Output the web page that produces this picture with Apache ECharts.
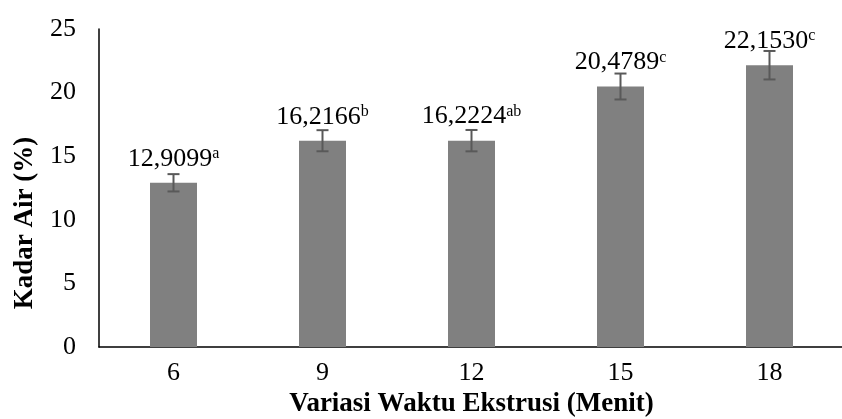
<!DOCTYPE html>
<html>
<head>
<meta charset="utf-8">
<script src="https://cdn.jsdelivr.net/npm/echarts@6/dist/echarts.min.js"></script>
<style>html,body{margin:0;padding:0;background:#fff}#c{width:842px;height:419px}</style>
</head>
<body>
<div id="c"></div>
<script>
var categories = ['6', '9', '12', '15', '18'];
var values = [12.9099, 16.2166, 16.2224, 20.4789, 22.1530];
var errors = [0.68, 0.83, 0.84, 1.02, 1.12];
var letters = ['a', 'b', 'ab', 'c', 'c'];
var yTicks = [0, 5, 10, 15, 20, 25];
var xTitle = 'Variasi Waktu Ekstrusi (Menit)';
var yTitle = 'Kadar Air (%)';

var FONT = '"Liberation Serif", "Times New Roman", serif';
var chart = echarts.init(document.getElementById('c'));
chart.setOption({
  animation: false,
  backgroundColor: '#fff',
  grid: { left: 99, top: 29, width: 745, height: 318, containLabel: false, outerBoundsMode: 'none' },
  graphic: [{
    type: 'text',
    x: 25, y: 223,
    rotation: Math.PI / 2,
    style: {
      text: yTitle,
      fontFamily: FONT, fontSize: 27, fontWeight: 'bold', fill: '#000',
      align: 'center', verticalAlign: 'middle'
    }
  }],
  xAxis: {
    type: 'category',
    data: categories,
    axisLine: { lineStyle: { color: '#000', width: 1.5 } },
    axisTick: { show: false },
    axisLabel: { fontFamily: FONT, fontSize: 26, color: '#000', margin: 13 },
    name: xTitle,
    nameLocation: 'middle',
    nameGap: 43,
    nameTextStyle: { fontFamily: FONT, fontSize: 27, fontWeight: 'bold', color: '#000', verticalAlign: 'top' }
  },
  yAxis: {
    type: 'value',
    min: yTicks[0],
    max: yTicks[yTicks.length - 1],
    interval: 5,
    splitLine: { show: false },
    axisLine: { show: true, lineStyle: { color: '#000', width: 1.5 } },
    axisTick: { show: false },
    axisLabel: { fontFamily: FONT, fontSize: 26, color: '#000', margin: 23 }
  },
  series: [
    {
      type: 'bar',
      data: values,
      barWidth: 47,
      itemStyle: { color: '#808080' },
      label: {
        show: true,
        position: 'top',
        distance: 11,
        formatter: function (p) {
          return '{v|' + values[p.dataIndex].toFixed(4).replace('.', ',') + '}{s|' + letters[p.dataIndex] + '}';
        },
        rich: {
          v: { fontFamily: FONT, fontSize: 26, color: '#000', lineHeight: 26 },
          s: { fontFamily: FONT, fontSize: 16, color: '#000', verticalAlign: 'top', lineHeight: 26, padding: [0, 0, 8, 0] }
        }
      },
      z: 2
    },
    {
      type: 'custom',
      z: 3,
      data: values.map(function (v, i) { return [i, v - errors[i], v + errors[i]]; }),
      renderItem: function (params, api) {
        var lo = api.coord([api.value(0), api.value(1)]);
        var hi = api.coord([api.value(0), api.value(2)]);
        var x = lo[0], hw = 6;
        var st = { stroke: '#595959', lineWidth: 2 };
        return {
          type: 'group',
          children: [
            { type: 'line', shape: { x1: x, y1: lo[1], x2: x, y2: hi[1] }, style: st },
            { type: 'line', shape: { x1: x - hw, y1: lo[1], x2: x + hw, y2: lo[1] }, style: st },
            { type: 'line', shape: { x1: x - hw, y1: hi[1], x2: x + hw, y2: hi[1] }, style: st }
          ]
        };
      }
    }
  ]
});
</script>
</body>
</html>
